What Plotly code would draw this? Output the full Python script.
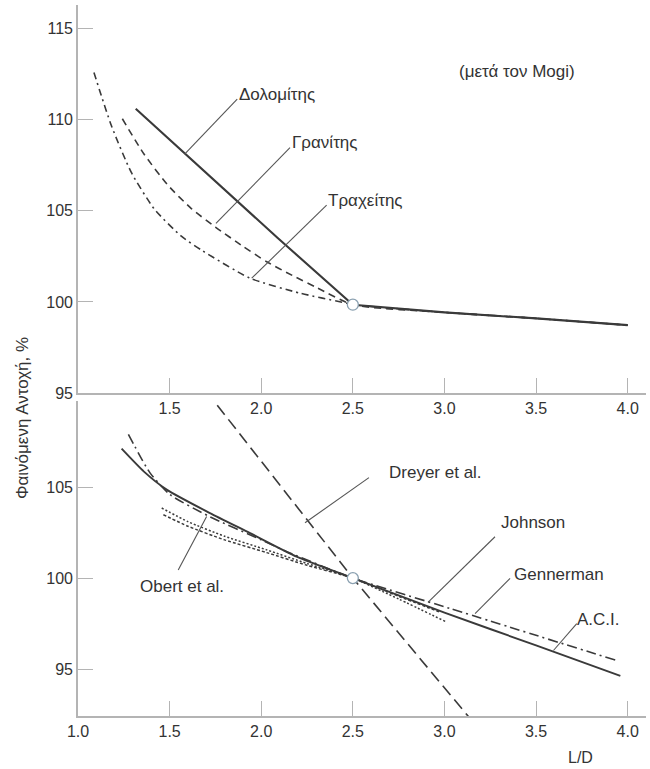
import plotly.graph_objects as go

# ---- Upper panel: Mogi curves (L/D vs apparent strength, %) ----
dolomite_x = [1.315, 1.582, 2.09, 2.5, 3.0, 3.5, 4.0]
dolomite_y = [110.58, 108.15, 103.5, 99.85, 99.43, 99.1, 98.73]

granite_x = [1.242, 1.36, 1.49, 1.62, 1.75, 1.9, 2.03, 2.17, 2.30, 2.5, 3.0, 3.5, 4.0]
granite_y = [110.03, 108.1, 106.4, 105.1, 104.1, 103.05, 102.2, 101.45, 100.8, 99.85, 99.43, 99.1, 98.73]

trachyte_x = [1.087, 1.182, 1.291, 1.418, 1.564, 1.68, 1.939, 2.212, 2.467, 2.5, 3.0, 3.5, 4.0]
trachyte_y = [112.56, 109.66, 107.09, 105.07, 103.6, 102.8, 101.3, 100.48, 99.93, 99.85, 99.43, 99.1, 98.73]

ref_top = (2.5, 99.85)

# ---- Lower panel: published relations ----
aci_x = [1.238, 1.36, 1.484, 1.72, 1.939, 2.193, 2.5, 3.0, 3.5, 3.96]
aci_y = [107.11, 105.85, 104.86, 103.57, 102.47, 101.18, 100.0, 98.1, 96.3, 94.62]

gennerman_x = [1.275, 1.393, 1.502, 1.72, 2.0, 2.14, 2.5, 3.03, 3.94]
gennerman_y = [107.9, 105.78, 104.59, 103.37, 102.1, 101.45, 100.0, 98.33, 95.47]

dreyer_x = [1.76, 2.5, 3.13]
dreyer_y = [109.5, 100.0, 92.4]

obert_x = [1.457, 1.6, 1.8, 2.03, 2.25, 2.5, 2.75, 3.01]
obert_y = [103.85, 103.1, 102.3, 101.55, 100.8, 100.0, 98.85, 97.59]

johnson_x = [1.466, 1.6, 1.8, 2.03, 2.25, 2.5, 2.75, 2.97]
johnson_y = [103.48, 102.85, 102.1, 101.4, 100.7, 100.0, 99.0, 98.15]

ref_bottom = (2.5, 100.0)

top_ticks = [95, 100, 105, 110, 115]
bottom_ticks = [95, 100, 105]
top_xticks = [1.5, 2.0, 2.5, 3.0, 3.5, 4.0]
bottom_xticks = [1.0, 1.5, 2.0, 2.5, 3.0, 3.5, 4.0]

# Callout labels: (text, label x, label y, leader start, leader end)
top_labels = [
    ("Δολομίτης", 1.87, 111.35, (1.869, 111.1), (1.582, 108.1)),
    ("Γρανίτης", 2.155, 108.72, (2.157, 108.45), (1.753, 104.3)),
    ("Τραχείτης", 2.355, 105.55, (2.357, 105.3), (1.948, 101.3)),
]
bottom_labels = [
    ("Dreyer et al.", 2.685, 105.8, (2.588, 105.52), (2.239, 103.04)),
    ("Johnson", 3.295, 103.05, (3.276, 102.27), (2.910, 98.67)),
    ("Gennerman", 3.366, 100.18, (3.358, 99.98), (3.167, 98.05)),
    ("A.C.I.", 3.71, 97.7, (3.722, 97.5), (3.595, 96.02)),
    ("Obert et al.", 1.33, 99.52, (1.547, 100.44), (1.702, 103.39)),
]

FONT = "Liberation Sans, Arial, sans-serif"
LINE = "#3a3a3a"
AXIS = "#b4b4b4"
TEXT = "#333333"

fig = go.Figure()

def curve(x, y, dash, width=1.6, xa="x", ya="y", smooth=True):
    line = dict(color=LINE, width=width, dash=dash)
    if smooth:
        line.update(shape="spline", smoothing=0.6)
    fig.add_trace(go.Scatter(x=x, y=y, mode="lines", xaxis=xa, yaxis=ya,
                             line=line, showlegend=False, hoverinfo="skip"))

# upper panel curves
curve(trachyte_x, trachyte_y, "7px,4px,2px,4px")
curve(granite_x, granite_y, "7px,5px")
curve(dolomite_x, dolomite_y, "solid", width=2.1, smooth=False)

# lower panel curves
curve(dreyer_x, dreyer_y, "12px,6px", xa="x2", ya="y2", smooth=False)
curve(obert_x, obert_y, "2px,2px", width=1.5, xa="x2", ya="y2")
curve(johnson_x, johnson_y, "3px,2px", width=1.5, xa="x2", ya="y2")
curve(gennerman_x, gennerman_y, "10px,4px,2px,4px", xa="x2", ya="y2")
curve(aci_x, aci_y, "solid", width=1.9, xa="x2", ya="y2")

# common reference points at L/D = 2.5
for (px, py), xa, ya in [(ref_top, "x", "y"), (ref_bottom, "x2", "y2")]:
    fig.add_trace(go.Scatter(x=[px], y=[py], mode="markers", xaxis=xa, yaxis=ya,
                             marker=dict(size=11, color="white",
                                         line=dict(color="#8aa0b0", width=1.3)),
                             showlegend=False, hoverinfo="skip"))

annotations = []
shapes = []
for labels, xr, yr in [(top_labels, "x", "y"), (bottom_labels, "x2", "y2")]:
    for text, tx, ty, (x0, y0), (x1, y1) in labels:
        annotations.append(dict(text=text, x=tx, y=ty, xref=xr, yref=yr,
                                xanchor="left", yanchor="middle", showarrow=False,
                                font=dict(family=FONT, size=17, color=TEXT)))
        shapes.append(dict(type="line", xref=xr, yref=yr, x0=x0, y0=y0, x1=x1, y1=y1,
                           line=dict(color="#555555", width=1.1)))

annotations.append(dict(text="(μετά τον Mogi)", x=3.395, y=112.6, xref="x", yref="y",
                        xanchor="center", yanchor="middle", showarrow=False,
                        font=dict(family=FONT, size=17, color=TEXT)))
annotations.append(dict(text="L/D", x=0.884, y=-0.059, xref="paper", yref="paper",
                        xanchor="center", yanchor="middle", showarrow=False,
                        font=dict(family=FONT, size=16, color=TEXT)))
annotations.append(dict(text="Φαινόμενη Αντοχή, %", x=-0.0986, y=0.419,
                        xref="paper", yref="paper", textangle=-90,
                        xanchor="center", yanchor="middle", showarrow=False,
                        font=dict(family=FONT, size=17, color=TEXT)))

axis_common = dict(showgrid=False, zeroline=False, showline=True, linecolor=AXIS,
                   linewidth=1.6, ticks="inside", ticklen=15, tickwidth=1.3,
                   tickcolor=AXIS, tickfont=dict(family=FONT, size=16, color=TEXT))

fig.update_layout(
    width=650, height=769,
    margin=dict(l=78, r=4, t=5, b=53),
    paper_bgcolor="white", plot_bgcolor="white",
    xaxis=dict(domain=[0, 1], range=[1.0, 4.1], anchor="y",
               tickvals=top_xticks, ticktext=[f"{v:.1f}" for v in top_xticks],
               **axis_common),
    yaxis=dict(domain=[0.4539, 1.0], range=[95, 116.26], anchor="x",
               tickvals=top_ticks, **axis_common),
    xaxis2=dict(domain=[0, 1], range=[1.0, 4.1], anchor="y2",
                tickvals=bottom_xticks, ticktext=[f"{v:.1f}" for v in bottom_xticks],
                **axis_common),
    yaxis2=dict(domain=[0, 0.443], range=[92.42, 109.73], anchor="x2",
                tickvals=bottom_ticks, **axis_common),
    annotations=annotations,
    shapes=shapes,
)

fig.write_html("out.html")
